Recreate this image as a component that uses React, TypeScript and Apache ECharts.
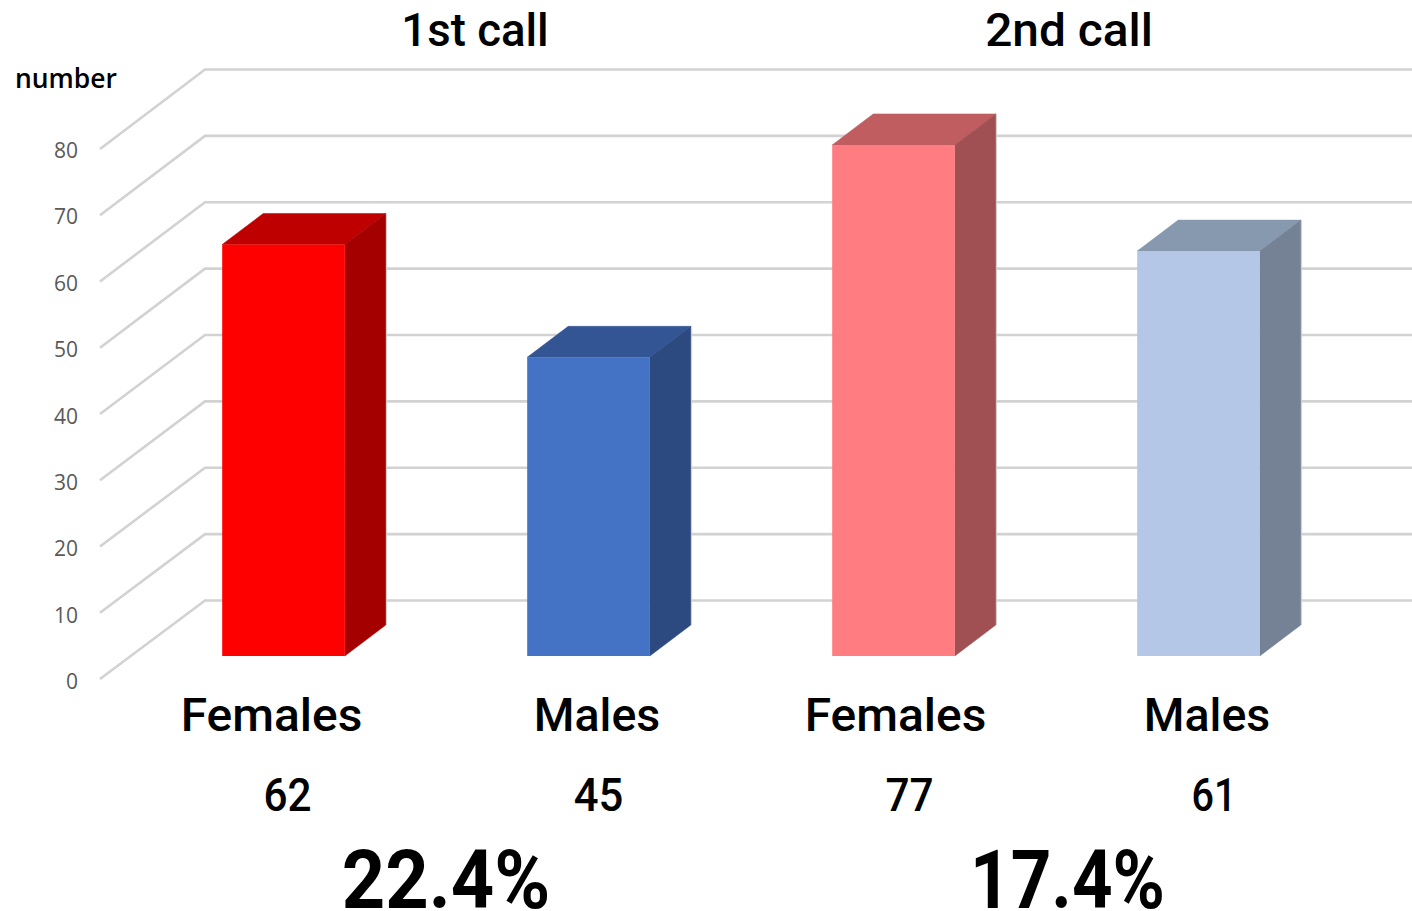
import React, { useEffect, useRef } from "react";
import * as echarts from "echarts";

const categories = ["Females", "Males", "Females", "Males"];
const counts = [62, 45, 77, 61];
const callTitles = ["1st call", "2nd call"];
const percentages = ["22.4%", "17.4%"];
const yTicks = [0, 10, 20, 30, 40, 50, 60, 70, 80];
const frontColors = ["#FF0000", "#4472C4", "#FF7C80", "#B4C7E7"];
const topColors = ["#BF0000", "#335593", "#BF5D60", "#8799AE"];
const sideColors = ["#A50000", "#2C4A80", "#A05053", "#758296"];

const categoryLabelX = [271.5, 597, 895.5, 1207];
const categoryScale = [1.02, 0.99, 1.02, 0.99];
const countLabelX = [287.5, 598.5, 909.5, 1214];
const countScale = [0.92, 0.95, 0.92, 0.86];
const titleX = [475, 1069];
const titleScale = [0.99, 1.04];
const percentX = [446, 1067.5];
const percentScale = [0.925, 0.865];

const UI_FONT = "Roboto";
const LABEL_FONT = "Open Sans";

export default function App() {
  const ref = useRef<HTMLDivElement>(null);
  useEffect(() => {
    const chart = echarts.init(ref.current!, undefined, { renderer: "svg" });
    const text = (t: string, x: number, y: number, size: number, scaleX = 1, extra: any = {}) => ({
      type: "text",
      x,
      y,
      scaleX,
      style: {
        text: t,
        fontFamily: UI_FONT,
        fontWeight: 500,
        fontSize: size,
        fill: "#000000",
        textAlign: "center",
        textVerticalAlign: "middle",
        ...extra,
      },
    });
    chart.setOption({
      animation: false,
      backgroundColor: "#ffffff",
      grid: { left: 131, top: 147, width: 1220, height: 531, containLabel: false },
      xAxis: {
        type: "category",
        data: categories.map((c, i) => `${c}-${i}`),
        axisLine: { show: false },
        axisTick: { show: false },
        axisLabel: { show: false },
        splitLine: { show: false },
      },
      yAxis: {
        type: "value",
        min: 0,
        max: 80,
        interval: 10,
        axisLine: { show: false },
        axisTick: { show: false },
        splitLine: { show: false },
        axisLabel: {
          margin: 53,
          color: "#595959",
          fontSize: 21,
          fontFamily: LABEL_FONT,
          verticalAlign: "middle",
          lineHeight: 28,
          formatter: (v: number) => `{t|${v}}`,
          rich: { t: { color: "#595959", fontSize: 21, fontFamily: LABEL_FONT, padding: [6, 0, 0, 0] } },
        },
      },
      series: [
        {
          type: "custom",
          silent: true,
          clip: false,
          z: 1,
          data: yTicks.map((t) => [0, t]),
          renderItem: (params: any, api: any) => {
            const v = api.value(1);
            const y = api.coord([0, v])[1];
            const x0 = params.coordSys.x - 31;
            const front = y + 1 + v / 80;
            const back = y - 77.5;
            return {
              type: "polyline",
              shape: { points: [[x0, front], [x0 + 105, back], [1412, back]] },
              style: { stroke: "#D2D2D2", lineWidth: 2.6, fill: "none" },
            };
          },
        },
        {
          type: "custom",
          silent: true,
          clip: false,
          z: 2,
          data: counts.map((v, i) => [i, v]),
          renderItem: (params: any, api: any) => {
            const i = params.dataIndex;
            const [cx, top0] = api.coord([i, api.value(1)]);
            const base0 = api.coord([i, 0])[1];
            const w = api.size([1, 0])[0] * 0.402;
            const lift = 22, dx = 41, dy = -31;
            const l = cx - w / 2, r = cx + w / 2;
            const t = top0 - lift, b = base0 - lift;
            return {
              type: "group",
              children: [
                { type: "polygon", shape: { points: [[l, t], [r, t], [r + dx, t + dy], [l + dx, t + dy]] }, style: { fill: topColors[i], stroke: topColors[i], lineWidth: 0.5 } },
                { type: "polygon", shape: { points: [[r, t], [r + dx, t + dy], [r + dx, b + dy], [r, b]] }, style: { fill: sideColors[i], stroke: sideColors[i], lineWidth: 0.5 } },
                { type: "line", shape: { x1: r + dx + 0.8, y1: t + dy, x2: r + dx + 0.8, y2: b + dy }, style: { stroke: "#CFCFCF", lineWidth: 1 } },
                { type: "rect", shape: { x: l, y: t, width: w, height: b - t }, style: { fill: frontColors[i] } },
              ],
            };
          },
        },
      ],
      graphic: {
        elements: [
          text("number", 66, 77.5, 27, 0.98, { fontFamily: LABEL_FONT, fontWeight: 600 }),
          ...callTitles.map((t, i) => text(t, titleX[i], 30, 46, titleScale[i])),
          ...categories.map((c, i) => text(c, categoryLabelX[i], 715, 47, categoryScale[i])),
          ...counts.map((c, i) => text(String(c), countLabelX[i], 795, 46, countScale[i])),
          ...percentages.map((p, i) => text(p, percentX[i], 880, 82, percentScale[i], { lineHeight: 60, fontWeight: 700 })),
        ],
      },
    });
    return () => chart.dispose();
  }, []);
  return <div ref={ref} style={{ position: "fixed", left: 0, top: 0, width: 1412, height: 911 }} />;
}
